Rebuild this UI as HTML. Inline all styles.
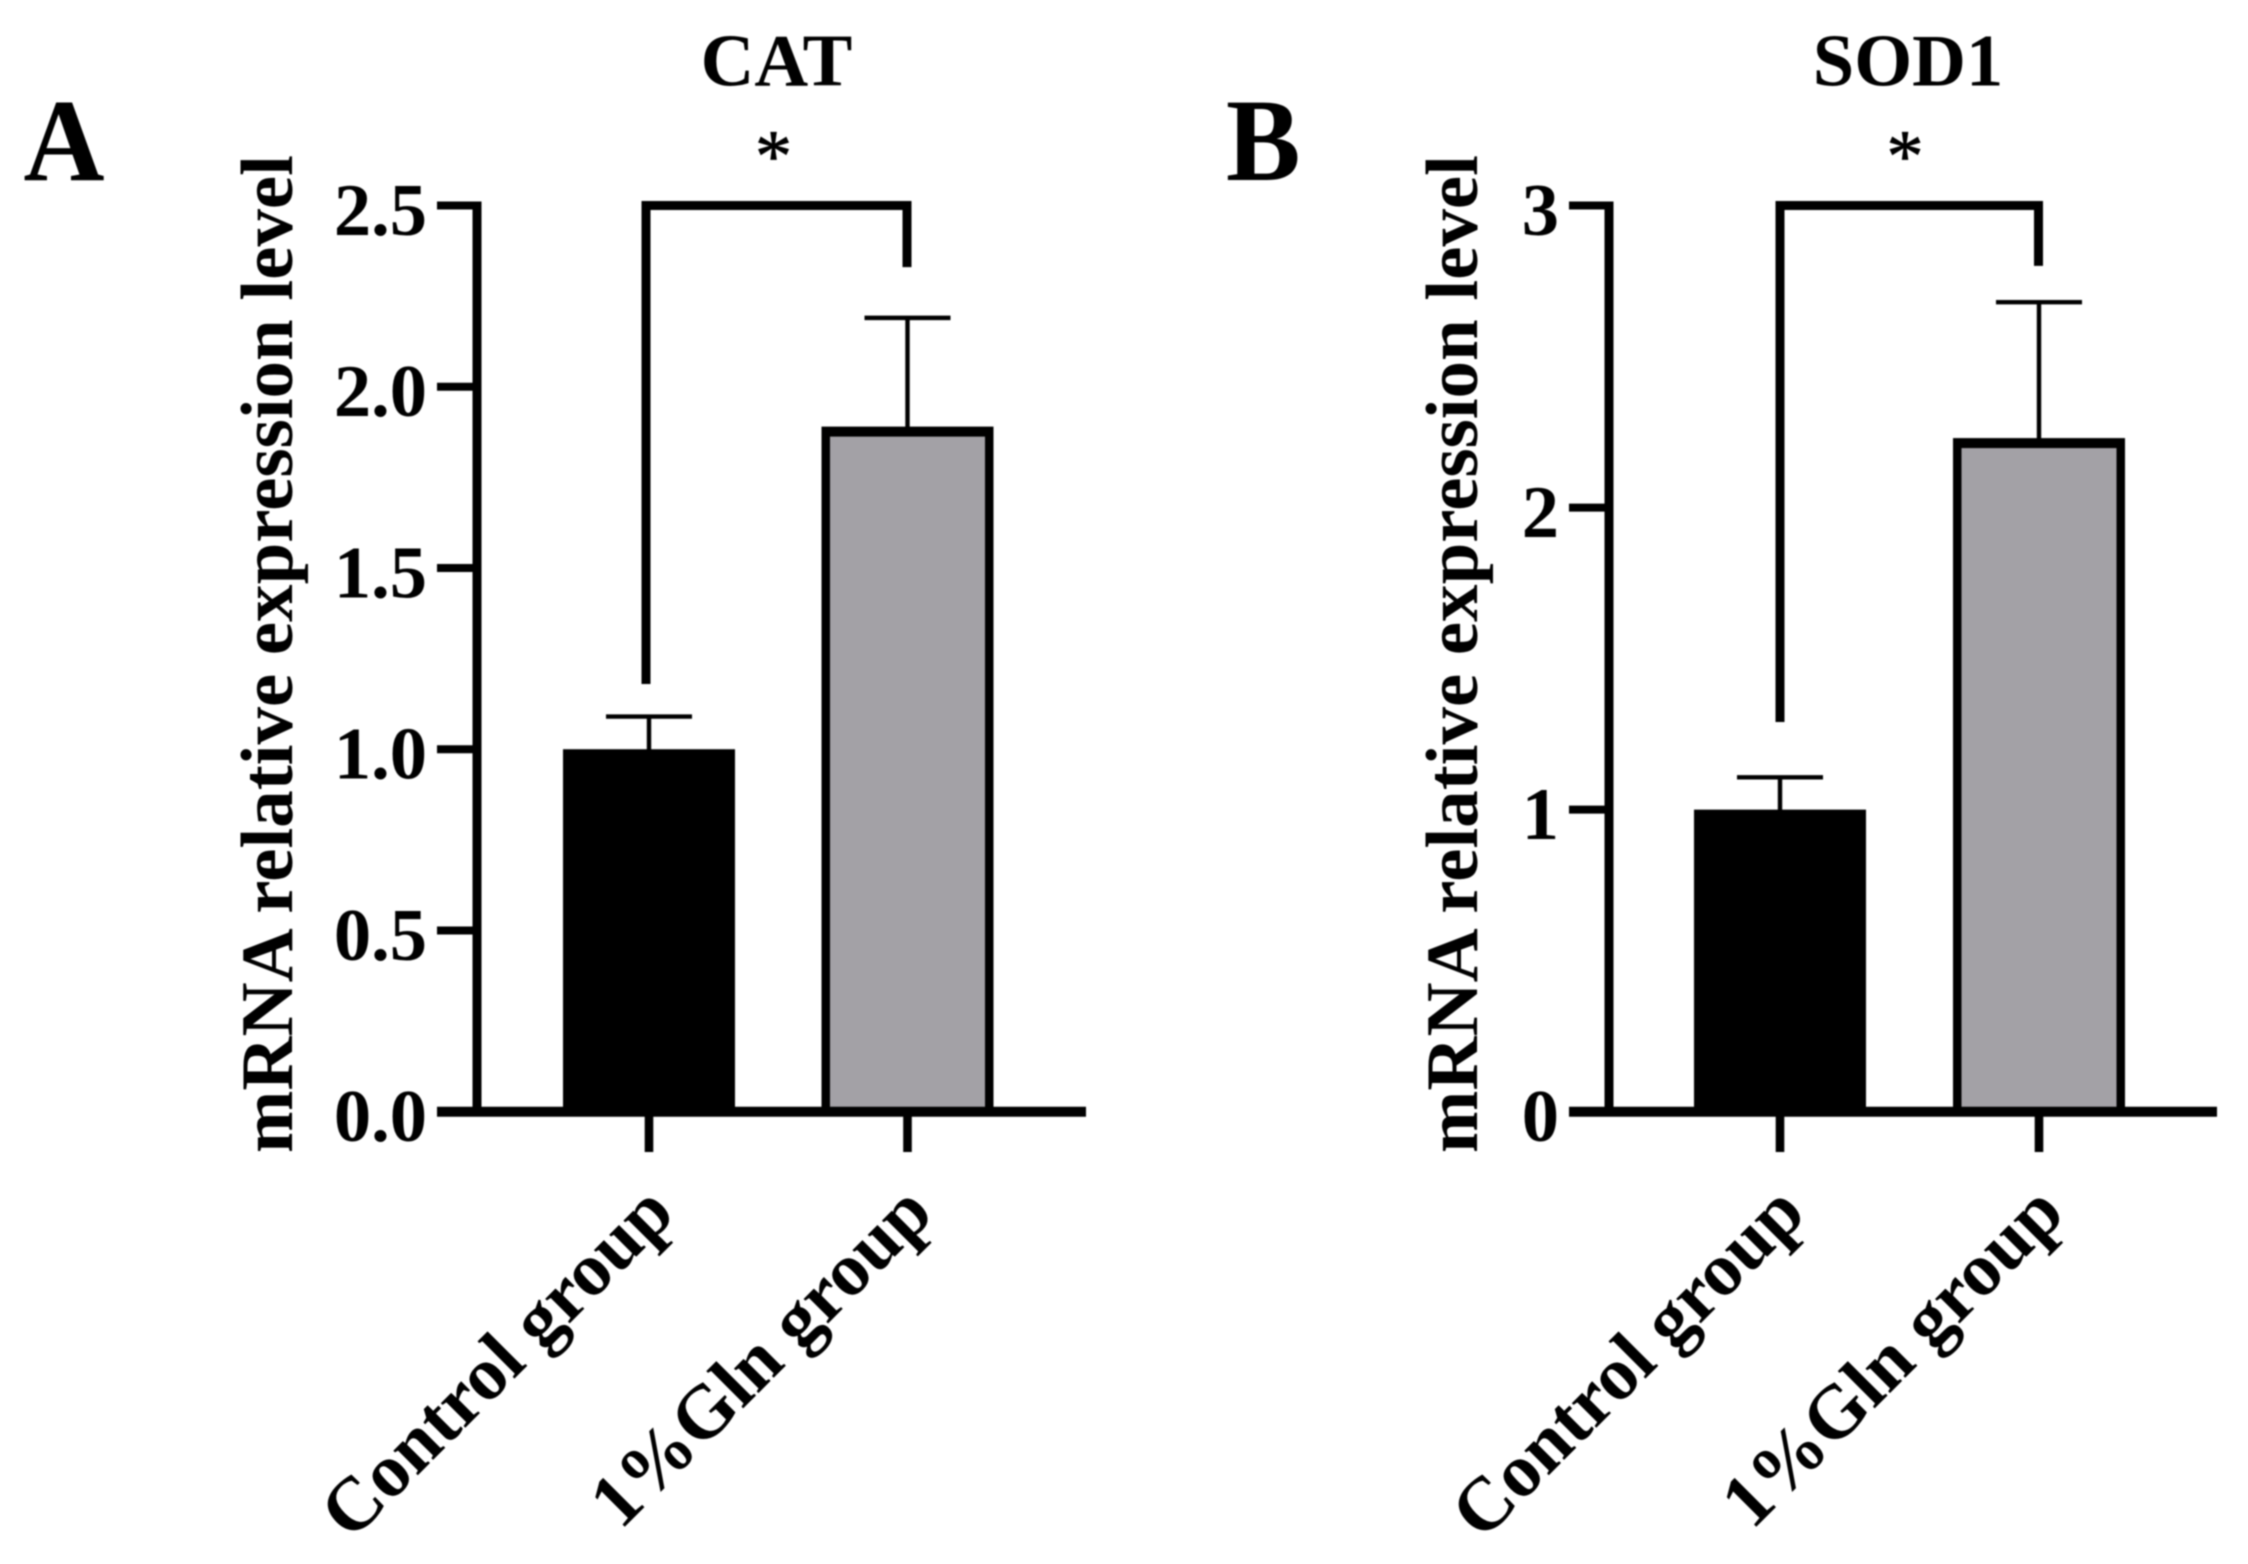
<!DOCTYPE html>
<html lang="en">
<head>
<meta charset="utf-8">
<title>CAT and SOD1 mRNA relative expression</title>
<style>
html,body{margin:0;padding:0;background:#fff;width:2248px;height:1564px;overflow:hidden}
svg{display:block;filter:blur(.8px)}
text{font-family:"Liberation Serif",serif;font-weight:bold;fill:#000}
</style>
</head>
<body>
<svg id="figure" xmlns="http://www.w3.org/2000/svg" width="2248" height="1564" viewBox="0 0 2248 1564">
<rect width="2248" height="1564" fill="#fff"/>
<text x="23.5" y="180" font-size="118" textLength="81" lengthAdjust="spacingAndGlyphs">A</text>
<text x="1226" y="180" font-size="118" textLength="74.5" lengthAdjust="spacingAndGlyphs">B</text>
</svg>
<script>
const categories = ["Control group", "1%Gln group"];
const catValues = [1.0, 1.89];
const catErrors = [0.09, 0.30];
const catTickLabels = ["0.0", "0.5", "1.0", "1.5", "2.0", "2.5"];
const catBracketEnds = [1.18, 2.33];
const catBracketTop = 2.5;
const catAxisMax = 2.5;
const sodValues = [1.0, 2.23];
const sodErrors = [0.107, 0.45];
const sodTickLabels = ["0", "1", "2", "3"];
const sodBracketEnds = [1.29, 2.80];
const sodBracketTop = 3;
const sodAxisMax = 3;

const NS = "http://www.w3.org/2000/svg";
const svg = document.getElementById("figure");

function make(tag, attrs, parent) {
  const el = document.createElementNS(NS, tag);
  Object.keys(attrs).forEach(function (k) { el.setAttribute(k, attrs[k]); });
  parent.appendChild(el);
  return el;
}

function drawPanel(cfg) {
  const g = make("g", {}, svg);
  
  

  const y = function (v) { return cfg.yBase - (v / cfg.max) * (cfg.yBase - cfg.yTop); };
  const x = function (i) { return cfg.x0 + i * cfg.step; };

  // title
  const title = make("text", { x: cfg.titleX, y: 85.5, "font-size": 74.5, "text-anchor": "middle" }, g);
  title.textContent = cfg.title;
  
  

  // y axis title
  const yTitle = make("text", {
    transform: "translate(" + cfg.yTitleX + ",1153) rotate(-90)",
    "font-size": 74.4,
    textLength: 998,
    lengthAdjust: "spacingAndGlyphs"
  }, g);
  yTitle.textContent = "mRNA relative expression level";
  
  

  // bars
  cfg.values.forEach(function (v, i) {
    const name = i === 0 ? 'control' : 'gln';
    const bar = make("rect", {
      x: x(i) - 86,
      y: y(v),
      width: 172,
      height: cfg.yBase - y(v),
      fill: "#000"
    }, g);
    
    
    if (i > 0) {
      const fill = make("rect", {
        x: x(i) - 86 + 8.5,
        y: y(v) + 10,
        width: 172 - 17,
        height: cfg.yBase - y(v) - 10,
        fill: "#a3a1a6"
      }, g);
      
      
    }

    const top = y(v + cfg.errors[i]);
    const stem = make("line", { x1: x(i), x2: x(i), y1: y(v) + 2, y2: top, stroke: "#000", "stroke-width": 4.4 }, g);
    
    
    const cap = make("line", { x1: x(i) - 43, x2: x(i) + 43, y1: top, y2: top, stroke: "#000", "stroke-width": 4.4 }, g);
    
    
  });

  // y axis
  const yAxis = make("line", { x1: cfg.axisX, x2: cfg.axisX, y1: cfg.yTop - 4, y2: cfg.yBase, stroke: "#000", "stroke-width": 9 }, g);
  
  

  cfg.tickLabels.forEach(function (lab) {
    const v = parseFloat(lab);
    const tick = make("line", { x1: cfg.axisX - 40, x2: cfg.axisX, y1: y(v), y2: y(v), stroke: "#000", "stroke-width": 8 }, g);
    
    
    const t = make("text", { x: cfg.axisX - 50, y: y(v) + 29.5, "font-size": 74.5, "text-anchor": "end" }, g);
    t.textContent = lab;
    
    
  });

  // x axis
  const xAxis = make("line", { x1: cfg.axisX - 40, x2: cfg.axisEnd, y1: cfg.yBase, y2: cfg.yBase, stroke: "#000", "stroke-width": 10 }, g);
  
  

  categories.forEach(function (c, i) {
    const tick = make("line", { x1: x(i), x2: x(i), y1: cfg.yBase, y2: 1152, stroke: "#000", "stroke-width": 8.6 }, g);
    
    
    const t = make("text", {
      transform: "translate(" + (x(i) + 28) + ",1216) rotate(-45)",
      "font-size": 75.5,
      "text-anchor": "end"
    }, g);
    t.textContent = c;
    
    
  });

  // significance bracket
  const bTop = y(cfg.bracketTop);
  const bracket = make("path", {
    d: "M" + (x(0) + cfg.bracketShift) + " " + y(cfg.bracketEnds[0]) + "V" + bTop + "H" + (x(1) - 0.5) + "V" + y(cfg.bracketEnds[1]),
    fill: "none",
    stroke: "#000",
    "stroke-width": 9
  }, g);
  
  
  const star = make("text", { x: cfg.starX, y: 181, "font-size": 74, "text-anchor": "middle", stroke: "#000", "stroke-width": 0.8, style: "font-weight:normal" }, g);
  star.textContent = "*";
  
  
}

drawPanel({
  id: "cat", title: "CAT", titleX: 776.5, yTitleX: 292, starX: 773.5, bracketShift: -3,
  axisX: 477, axisEnd: 1086, yTop: 205.5, yBase: 1111.7, x0: 649, step: 258.5,
  max: catAxisMax, values: catValues, errors: catErrors, tickLabels: catTickLabels,
  bracketEnds: catBracketEnds, bracketTop: catBracketTop
});
drawPanel({
  id: "sod1", title: "SOD1", titleX: 1908, yTitleX: 1477, starX: 1905, bracketShift: 0,
  axisX: 1609, axisEnd: 2217, yTop: 205.5, yBase: 1111.7, x0: 1780, step: 259,
  max: sodAxisMax, values: sodValues, errors: sodErrors, tickLabels: sodTickLabels,
  bracketEnds: sodBracketEnds, bracketTop: sodBracketTop
});
</script>
</body>
</html>
